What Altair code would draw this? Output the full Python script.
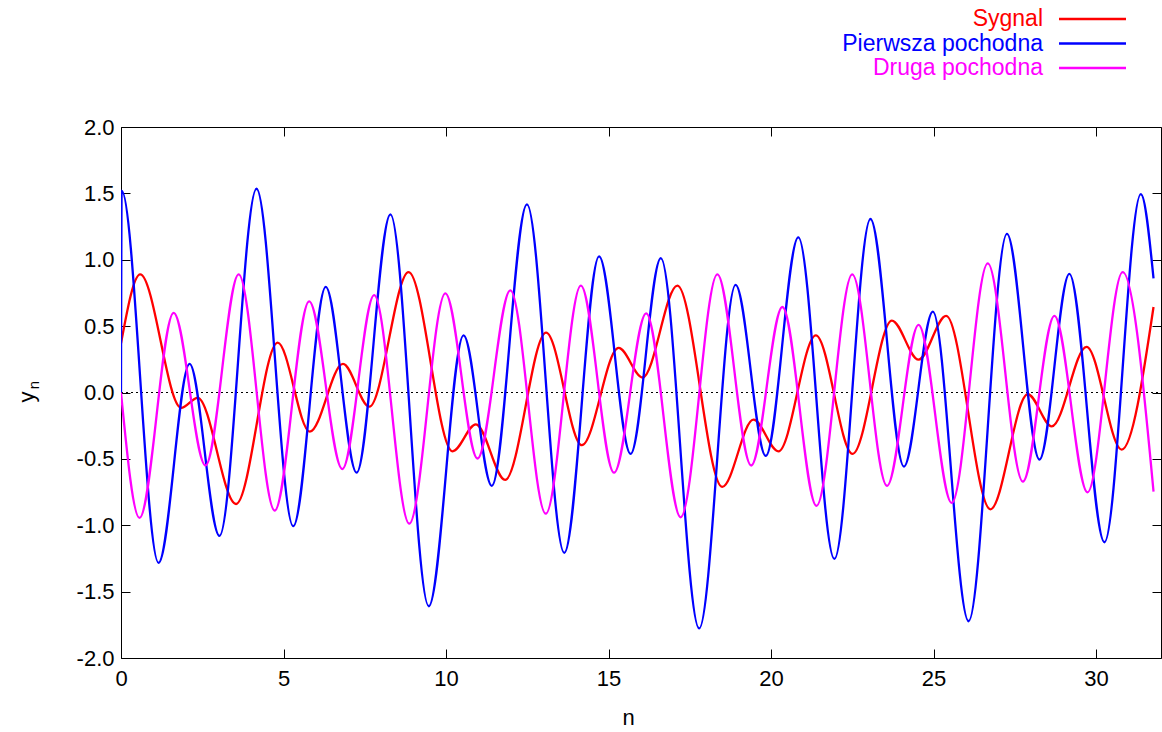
import altair as alt
import pandas as pd

SERIES = ["Sygnal", "Pierwsza pochodna", "Druga pochodna"]
COLORS = ["#ff0000", "#0000ff", "#ff00ff"]

# Signal (red) - read at extrema
SYG_X = [0, 0.59, 1.85, 2.36, 3.54, 4.82, 5.81, 6.83, 7.64, 8.85, 10.2, 10.92, 11.82, 13.08,
         14.18, 15.31, 16.05, 17.12, 18.5, 19.46, 20.23, 21.38, 22.51, 23.72, 24.54, 25.39,
         26.75, 27.9, 28.64, 29.71, 30.79, 31.77]
SYG_Y = [0.37, 0.89, -0.115, -0.04, -0.84, 0.376, -0.295, 0.215, -0.107, 0.907, -0.443, -0.24,
         -0.658, 0.451, -0.397, 0.336, 0.113, 0.805, -0.711, -0.204, -0.443, 0.43, -0.462, 0.542,
         0.247, 0.577, -0.88, -0.013, -0.255, 0.344, -0.43, 0.644]

# First derivative (blue)
D1_X = [0, 0.02, 1.155, 2.11, 3.03, 4.17, 5.30, 6.30, 7.25, 8.29, 9.47, 10.54, 11.41, 12.49,
        13.64, 14.71, 15.68, 16.61, 17.79, 18.91, 19.84, 20.84, 21.95, 23.06, 24.09, 24.98,
        26.08, 27.26, 28.26, 29.18, 30.26, 31.38, 31.77]
D1_Y = [0, 1.52, -1.283, 0.215, -1.08, 1.535, -1.007, 0.795, -0.604, 1.342, -1.61, 0.43,
        -0.703, 1.417, -1.208, 1.025, -0.462, 1.012, -1.777, 0.81, -0.478, 1.168, -1.254,
        1.307, -0.558, 0.609, -1.723, 1.195, -0.505, 0.894, -1.128, 1.495, 0.859]

# Second derivative (magenta)
D2_X = [0, 0.57, 1.62, 2.60, 3.62, 4.73, 5.79, 6.81, 7.79, 8.87, 9.98, 10.97, 11.98, 13.07,
        14.15, 15.17, 16.16, 17.22, 18.35, 19.39, 20.35, 21.4, 22.5, 23.57, 24.54, 25.56,
        26.67, 27.75, 28.72, 29.74, 30.82, 31.77]
D2_Y = [0, -0.945, 0.60, -0.55, 0.89, -0.89, 0.687, -0.577, 0.733, -0.988, 0.746, -0.497,
        0.77, -0.913, 0.805, -0.604, 0.596, -0.94, 0.89, -0.55, 0.644, -0.854, 0.89, -0.703,
        0.51, -0.832, 0.972, -0.671, 0.577, -0.752, 0.907, -0.746]

X_TICKS = [0, 5, 10, 15, 20, 25, 30]
Y_TICKS = [-2.0, -1.5, -1.0, -0.5, 0.0, 0.5, 1.0, 1.5, 2.0]
X_DOMAIN = [0, 32]
Y_DOMAIN = [-2, 2]

W, H = 1040, 531
FONT = "Liberation Sans"
FS = 22
LEG_FS = 23
LW = 2.3
INWARD = {"expr": "-9"}

xscale = alt.Scale(domain=X_DOMAIN, nice=False, zero=False)
yscale = alt.Scale(domain=Y_DOMAIN, nice=False, zero=False)

# zero axis (dotted) carrying the mirrored top/right ticks
zero_df = pd.DataFrame({"n": X_DOMAIN, "y": [0, 0]})
zero = alt.Chart(zero_df).mark_line(color="black", strokeWidth=1, strokeDash=[2, 3]).encode(
    x=alt.X("n:Q", scale=xscale,
            axis=alt.Axis(orient="top", values=X_TICKS, labels=False, domain=False, grid=False,
                          tickSize=INWARD, tickColor="black", tickWidth=1, title=None)),
    y=alt.Y("y:Q", scale=yscale,
            axis=alt.Axis(orient="right", values=Y_TICKS, labels=False, domain=False, grid=False,
                          tickSize=INWARD, tickColor="black", tickWidth=1, title=None)),
)

layers = [zero]
series_data = [(SYG_X, SYG_Y), (D1_X, D1_Y), (D2_X, D2_Y)]
for i, (name, color, (xs, ys)) in enumerate(zip(SERIES, COLORS, series_data)):
    d = pd.DataFrame({"n": xs, "y": ys})
    if i == 0:
        xaxis = alt.Axis(orient="bottom", values=X_TICKS, domain=False, grid=False,
                         tickSize=INWARD, tickColor="black", tickWidth=1,
                         labelPadding=19, labelFont=FONT, labelFontSize=FS, labelColor="black",
                         labelFlush=False, title="n", titleFont=FONT, titleFontSize=FS,
                         titleFontWeight="normal", titleColor="black",
                         titleX=507, titleY=59, titleBaseline="middle", titleAlign="center")
        yaxis = alt.Axis(orient="left", values=Y_TICKS, domain=False, grid=False,
                         tickSize=INWARD, tickColor="black", tickWidth=1,
                         labelPadding=16, labelFont=FONT, labelFontSize=FS, labelColor="black",
                         labelFlush=False, labelBaseline="middle",
                         labelExpr="(datum.value < 0 ? '-' : '') + format(abs(datum.value), '.1f')",
                         title=None)
    else:
        xaxis = None
        yaxis = None
    layers.append(
        alt.Chart(d).mark_line(color=color, strokeWidth=LW, interpolate="monotone", clip=True).encode(
            x=alt.X("n:Q", scale=xscale, axis=xaxis),
            y=alt.Y("y:Q", scale=yscale, axis=yaxis),
        )
    )

# legend (top right, outside plot area)
for i, (name, color) in enumerate(zip(SERIES, COLORS)):
    ld = pd.DataFrame({"label": [name]})
    yy = -108 + 24.5 * i
    layers.append(alt.Chart(ld).mark_text(align="right", baseline="middle", font=FONT, fontSize=LEG_FS,
                                          color=color).encode(
        text="label:N", x=alt.value(922), y=alt.value(yy)))
    layers.append(alt.Chart(ld).mark_rule(color=color, strokeWidth=LW).encode(
        x=alt.value(938), x2=alt.value(1005), y=alt.value(yy)))

# y axis title with subscript
yt = pd.DataFrame({"t": ["y"], "s": ["n"]})
layers.append(alt.Chart(yt).mark_text(angle=270, align="center", baseline="middle", font=FONT,
                                      fontSize=FS, color="black").encode(
    text="t:N", x=alt.value(-94), y=alt.value(270)))
layers.append(alt.Chart(yt).mark_text(angle=270, align="center", baseline="middle", font=FONT,
                                      fontSize=15, color="black").encode(
    text="s:N", x=alt.value(-87), y=alt.value(258)))

chart = alt.layer(*layers).resolve_axis(x="independent", y="independent").properties(
    width=W, height=H,
    autosize=alt.AutoSizeParams(type="none"),
    padding={"left": 121, "top": 127, "right": 1, "bottom": 74},
    background="white",
).configure_view(stroke="black", strokeWidth=1)

chart.save("out.html", embed_options={"renderer": "svg", "actions": False})
